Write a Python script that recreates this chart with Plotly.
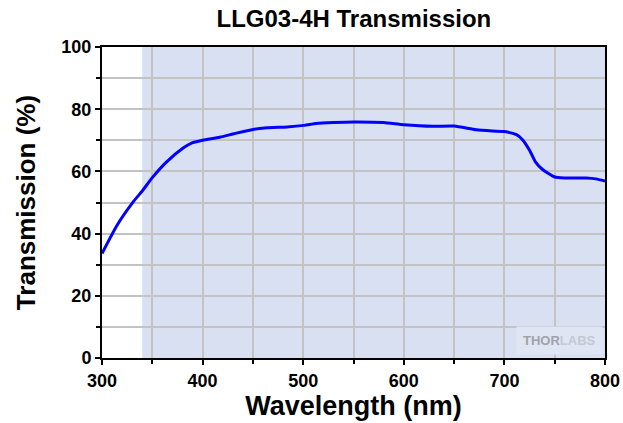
import plotly.graph_objects as go

wavelength = [300, 315, 331, 340, 350, 364, 381, 389, 400, 417, 431, 450, 464, 484, 501,
              513, 530, 550, 580, 600, 629, 650, 672, 688, 700, 712, 718, 725, 731, 738,
              750, 761, 781, 791, 800]
transmission = [33.6, 42.7, 50.2, 53.7, 58.0, 63.0, 67.6, 69.1, 70.0, 71.0, 72.1, 73.5, 74.0,
                74.3, 74.8, 75.4, 75.7, 75.9, 75.7, 75.0, 74.5, 74.6, 73.4, 73.0, 72.8,
                71.8, 70.2, 66.8, 63.0, 60.6, 58.2, 57.9, 57.9, 57.6, 56.9]

shade_range = [340, 800]
x_ticks = [300, 400, 500, 600, 700, 800]
y_ticks = [0, 20, 40, 60, 80, 100]

FONT = "Liberation Sans, Arial, sans-serif"
GRID = "#C3C3C3"

fig = go.Figure()
fig.add_trace(go.Scatter(
    x=wavelength, y=transmission, mode="lines",
    line=dict(color="#0000FF", width=3, shape="spline", smoothing=0.6),
    showlegend=False, hoverinfo="x+y"))

fig.add_shape(type="rect", xref="x", yref="y",
              x0=shade_range[0], x1=shade_range[1], y0=0, y1=100,
              fillcolor="#D9E0F1", line=dict(width=0), layer="below")

fig.add_annotation(
    x=755, y=5.5, xref="x", yref="y",
    text="<b>THOR</b><span style='color:#C4C9D4'><b>LABS</b></span>",
    showarrow=False, font=dict(family=FONT, size=13, color="#A0A3AA"),
    bgcolor="#DFE5F3", borderpad=6)

axis_common = dict(
    showline=True, linecolor="black", linewidth=2, mirror=True,
    ticks="outside", ticklen=5, tickwidth=2, tickcolor="black",
    showgrid=True, gridcolor=GRID, gridwidth=1.5,
    zeroline=False,
    tickfont=dict(family=FONT, size=18, color="black", weight="bold"),
)

fig.update_xaxes(
    range=[300, 800], tickvals=x_ticks,
    minor=dict(dtick=50, tick0=300, ticks="outside", ticklen=4, tickwidth=2,
               tickcolor="black", showgrid=True, gridcolor=GRID, gridwidth=1.5),
    title=dict(text="<b>Wavelength (nm)</b>", font=dict(family=FONT, size=27, color="black"),
               standoff=0),
    **axis_common)
fig.update_yaxes(
    range=[0, 100], tickvals=y_ticks,
    minor=dict(dtick=10, tick0=0, ticks="outside", ticklen=4, tickwidth=2,
               tickcolor="black", showgrid=True, gridcolor=GRID, gridwidth=1.5),
    title=dict(text="<b>Transmission (%)</b>", font=dict(family=FONT, size=26, color="black"),
               standoff=18),
    **axis_common)

fig.update_layout(
    width=623, height=423,
    margin=dict(l=102, r=18, t=47, b=65, autoexpand=False),
    paper_bgcolor="white", plot_bgcolor="white",
    title=dict(text="<b>LLG03-4H Transmission</b>", x=0.568, xanchor="center",
               y=1 - 19 / 423, yanchor="middle",
               font=dict(family=FONT, size=24, color="black")),
)

# remove the page's default body margin so the figure fills the window exactly
fig.write_html("out.html", config={"displayModeBar": False},
               post_script="document.body.style.margin='0';")
